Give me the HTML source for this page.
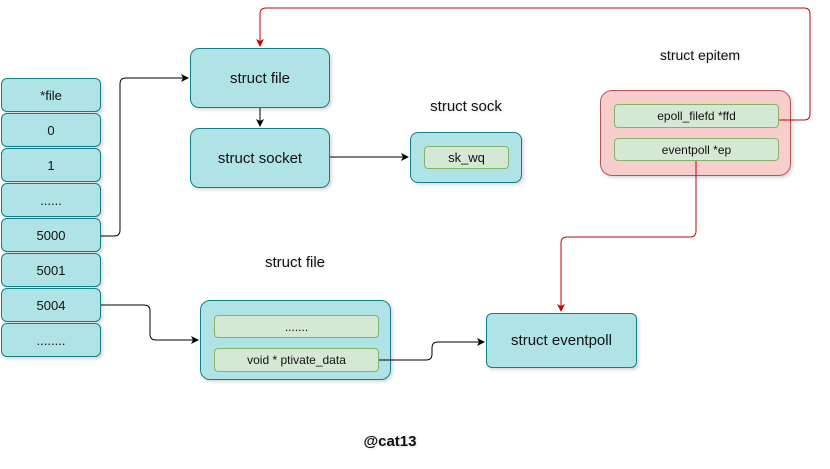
<!DOCTYPE html>
<html><head><style>
body{margin:0;width:830px;height:469px;background:#fff;font-family:"Liberation Sans",sans-serif;position:relative;overflow:hidden}
.b{position:absolute;box-sizing:border-box;display:flex;align-items:center;justify-content:center;color:#111;text-align:center}
.c{background:#b0e3e6;border:1px solid #0e8088;border-radius:6px;font-size:13px;box-shadow:2px 2px 3px rgba(0,0,0,0.15)}
.g{background:#d5e8d4;border:1px solid #82b366;border-radius:4px;font-size:12px}
.t{position:absolute;font-size:15px;color:#111;transform:translateX(-50%);white-space:nowrap;text-shadow:1px 1px 2px rgba(0,0,0,0.15)}
svg{position:absolute;left:0;top:0}
</style></head><body>
<div class="b c" style="left:1px;top:78px;width:100px;height:34px">*file</div>
<div class="b c" style="left:1px;top:113px;width:100px;height:34px">0</div>
<div class="b c" style="left:1px;top:148px;width:100px;height:34px">1</div>
<div class="b c" style="left:1px;top:183px;width:100px;height:34px">......</div>
<div class="b c" style="left:1px;top:218px;width:100px;height:34px">5000</div>
<div class="b c" style="left:1px;top:253px;width:100px;height:34px">5001</div>
<div class="b c" style="left:1px;top:288px;width:100px;height:34px">5004</div>
<div class="b c" style="left:1px;top:323px;width:100px;height:34px">........</div>
<div class="b c" style="left:190px;top:48px;width:140px;height:60px;font-size:15px;border-radius:9px">struct file</div>
<div class="b c" style="left:190px;top:128px;width:140px;height:60px;font-size:15px;border-radius:9px">struct socket</div>
<div class="b c" style="left:410px;top:132px;width:112px;height:51px;border-radius:8px"></div>
<div class="b g" style="left:424px;top:146px;width:85px;height:23px;font-size:13px">sk_wq</div>
<div class="b" style="left:600px;top:90px;width:191px;height:86px;background:#f8cecc;border:1px solid #b85450;border-radius:12px;box-shadow:2px 2px 3px rgba(0,0,0,0.15)"></div>
<div class="b g" style="left:614px;top:104px;width:165px;height:24px">epoll_filefd *ffd</div>
<div class="b g" style="left:614px;top:138px;width:165px;height:23px">eventpoll *ep</div>
<div class="b c" style="left:200px;top:300px;width:191px;height:80px;border-radius:10px"></div>
<div class="b g" style="left:214px;top:315px;width:165px;height:23px">.......</div>
<div class="b g" style="left:214px;top:348px;width:165px;height:24px">void * ptivate_data</div>
<div class="b c" style="left:486px;top:313px;width:151px;height:55px;font-size:15px">struct eventpoll</div>
<div class="t" style="left:466px;top:98px">struct sock</div>
<div class="t" style="left:700px;top:47px;font-size:14px">struct epitem</div>
<div class="t" style="left:295px;top:254px">struct file</div>
<div class="t" style="left:390px;top:433px;font-weight:bold">@cat13</div>
<svg width="830" height="469">
<defs>
<marker id="a" markerWidth="8" markerHeight="8" refX="7" refY="4" orient="auto" markerUnits="userSpaceOnUse"><path d="M0,0L8,4L0,8L2,4z" fill="#000"/></marker>
<marker id="r" markerWidth="8" markerHeight="8" refX="7" refY="4" orient="auto" markerUnits="userSpaceOnUse"><path d="M0,0L8,4L0,8L2,4z" fill="#c00"/></marker>
</defs>
<g fill="none" stroke="#000" stroke-width="1">
<path d="M101,236H114Q120,236 120,230V84Q120,78 126,78H188" marker-end="url(#a)"/>
<path d="M101,305H144Q150,305 150,311V334Q150,340 156,340H198" marker-end="url(#a)"/>
<path d="M379,360H426Q432,360 432,354V348Q432,342 438,342H484" marker-end="url(#a)"/>
<path d="M330,157H408" marker-end="url(#a)"/>
<path d="M260,108V126" marker-end="url(#a)"/>
</g>
<g fill="none" stroke="#c00" stroke-width="1">
<path d="M779,120H804Q810,120 810,114V14Q810,8 804,8H266Q260,8 260,14V46" marker-end="url(#r)"/>
<path d="M696,161V231Q696,237 690,237H567Q561,237 561,243V311" marker-end="url(#r)"/>
</g>
</svg>
</body></html>
